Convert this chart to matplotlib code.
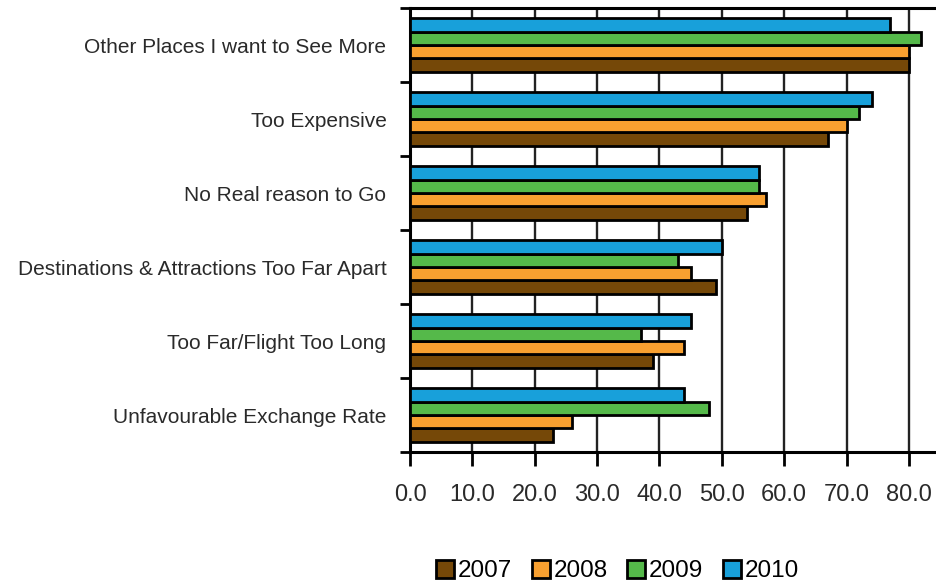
import matplotlib.pyplot as plt
import numpy as np

plt.rcParams['font.family'] = ['Liberation Sans', 'DejaVu Sans']

categories = ['Unfavourable Exchange Rate', 'Too Far/Flight Too Long',
              'Destinations & Attractions Too Far Apart', 'No Real reason to Go',
              'Too Expensive', 'Other Places I want to See More']
years = ['2007', '2008', '2009', '2010']
v2007 = [23, 39, 49, 54, 67, 80]
v2008 = [26, 44, 45, 57, 70, 80]
v2009 = [48, 37, 43, 56, 72, 82]
v2010 = [44, 45, 50, 56, 74, 77]
series = [v2007, v2008, v2009, v2010]
colors = ['#754808', '#F8A030', '#55B94A', '#18A0DA']

fig = plt.figure(figsize=(9.37, 5.81), dpi=100)
ax = fig.add_axes([0.4376, 0.222, 0.5624, 0.764])

y = np.arange(len(categories))
h = 0.18
for i, vals in enumerate(series):
    ax.barh(y + (i - 1.5) * h, vals, height=h, color=colors[i],
            edgecolor='black', linewidth=2, label=years[i], zorder=3)

ax.set_xlim(0, 84.5)
ax.set_ylim(-0.5, len(categories) - 0.5)
ax.set_xticks(np.arange(0, 81, 10))
ax.set_xticklabels(['%.1f' % v for v in np.arange(0, 81, 10)], fontsize=17, color='#2a2a2a')
ax.xaxis.grid(True, color='#222222', linewidth=1.7, zorder=0)

ax.set_yticks(np.arange(-0.5, len(categories), 1))
ax.set_yticklabels([])
ax.set_yticks(y, minor=True)
ax.set_yticklabels(categories, minor=True, fontsize=15, color='#2a2a2a')
ax.tick_params(axis='y', which='minor', length=0, pad=17)
ax.tick_params(axis='y', which='major', length=7, width=2, direction='out')
ax.tick_params(axis='x', length=10, width=2, direction='out', pad=13)

for s in ['left', 'bottom', 'top']:
    ax.spines[s].set_linewidth(2.2)
ax.spines['right'].set_visible(False)

fig.legend(loc='lower center', bbox_to_anchor=(0.659, -0.04), ncol=4, frameon=False,
           fontsize=17.5, handlelength=0.75, handleheight=0.75, handletextpad=0.15,
           columnspacing=0.8)

fig.savefig('out.png')
